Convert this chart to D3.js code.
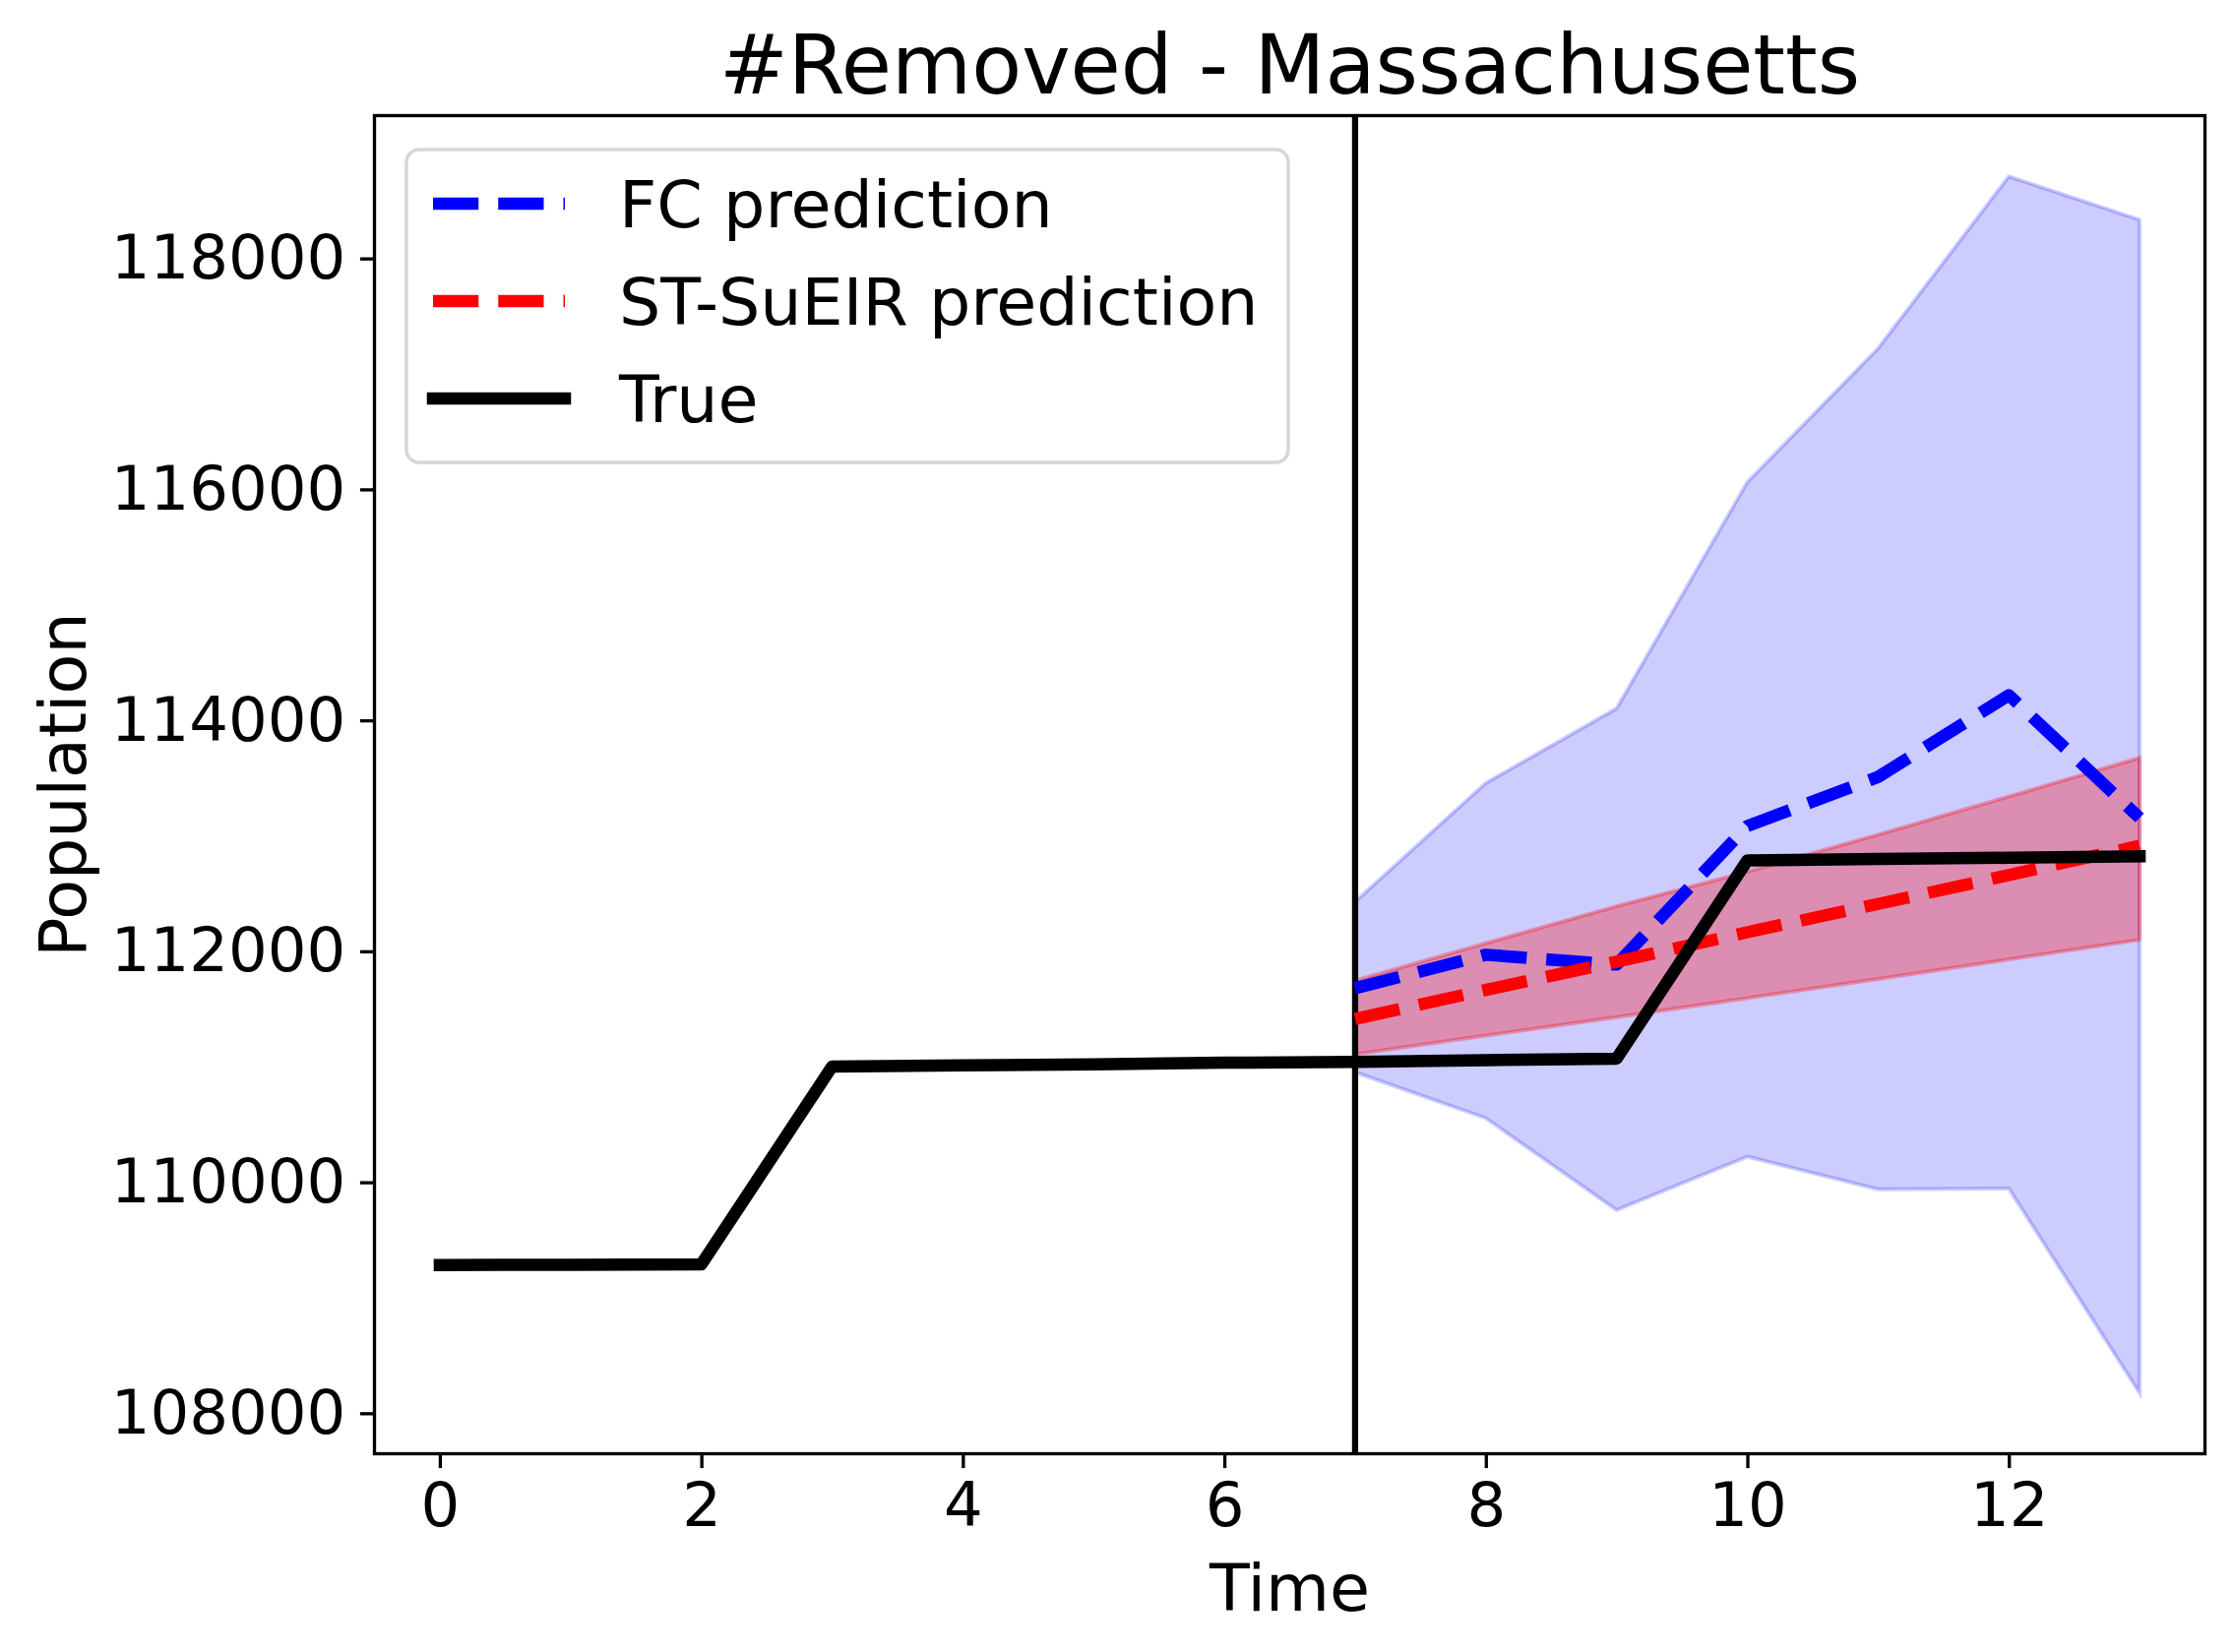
<!DOCTYPE html>
<html>
<head>
<meta charset="utf-8">
<script src="https://cdn.jsdelivr.net/npm/d3@7"></script>
<style>
  body { margin: 0; background: #fff; }
  svg { display: block; }
  text { font-family: "DejaVu Sans", sans-serif; fill: #000; }
</style>
</head>
<body>
<div id="chart"></div>
<script>
// observed series
var times = [0, 1, 2, 3, 4, 5, 6, 7, 8, 9, 10, 11, 12, 13];
var trueCounts = [109283, 109286, 109289, 111003, 111012, 111022, 111035, 111043, 111057, 111071, 112787, 112800, 112810, 112822];

// forecast window
var predTimes = [7, 8, 9, 10, 11, 12, 13];
var fcPred  = [111680, 111970, 111885, 113085, 113510, 114218, 113155];
var fcUpper = [112430, 113457, 114103, 116063, 117221, 118710, 118335];
var fcLower = [110953, 110555, 109760, 110222, 109939, 109945, 108176];
var stPred  = [111415, 111665, 111910, 112165, 112410, 112660, 112914];
var stUpper = [111745, 112070, 112390, 112690, 113010, 113340, 113675];
var stLower = [111108, 111270, 111430, 111595, 111760, 111930, 112100];

var splitTime = 7;
var xTicks = [0, 2, 4, 6, 8, 10, 12];
var yTicks = [108000, 110000, 112000, 114000, 116000, 118000];
var legendLabels = ["FC prediction", "ST-SuEIR prediction", "True"];

var width = 2270, height = 1679;
var plot = { left: 380.5, right: 2240.5, top: 117.5, bottom: 1477.5 };
var tickFont = 62.5, labelFont = 66.7, titleFont = 83.3;
var dash = "46.25,20";

var svg = d3.select("#chart").append("svg")
  .attr("width", width)
  .attr("height", height)
  .attr("viewBox", "0 0 " + width + " " + height);

svg.append("rect").attr("width", width).attr("height", height).attr("fill", "#fff");

var x = d3.scaleLinear().domain([-0.5, 13.5]).range([plot.left, plot.right]);

// matplotlib style 5% margin around the data
var allVals = trueCounts.concat(fcUpper, fcLower, stUpper, stLower, fcPred, stPred);
var lo = d3.min(allVals), hi = d3.max(allVals), pad = (hi - lo) * 0.05;
var y = d3.scaleLinear().domain([lo - pad, hi + pad]).range([plot.bottom, plot.top]);

svg.append("clipPath").attr("id", "plotClip")
  .append("rect")
  .attr("x", plot.left).attr("y", plot.top)
  .attr("width", plot.right - plot.left).attr("height", plot.bottom - plot.top);

var plotArea = svg.append("g").attr("clip-path", "url(#plotClip)");

function band(upper, lower) {
  return predTimes.map(function(t, i) { return { t: t, hi: upper[i], lo: lower[i] }; });
}
var area = d3.area()
  .x(function(d) { return x(d.t); })
  .y0(function(d) { return y(d.lo); })
  .y1(function(d) { return y(d.hi); });

plotArea.append("path")
  .datum(band(fcUpper, fcLower))
  .attr("d", area)
  .attr("fill", "blue").attr("fill-opacity", 0.2)
  .attr("stroke", "blue").attr("stroke-opacity", 0.2).attr("stroke-width", 4);

plotArea.append("path")
  .datum(band(stUpper, stLower))
  .attr("d", area)
  .attr("fill", "red").attr("fill-opacity", 0.3)
  .attr("stroke", "red").attr("stroke-opacity", 0.3).attr("stroke-width", 4);

// split marker
plotArea.append("line")
  .attr("x1", x(splitTime)).attr("x2", x(splitTime))
  .attr("y1", plot.top).attr("y2", plot.bottom)
  .attr("stroke", "#000").attr("stroke-width", 6.25);

var line = d3.line()
  .x(function(d) { return x(d[0]); })
  .y(function(d) { return y(d[1]); });

plotArea.append("path")
  .datum(d3.zip(predTimes, fcPred))
  .attr("d", line)
  .attr("fill", "none").attr("stroke", "blue").attr("stroke-width", 12.5)
  .attr("stroke-dasharray", dash).attr("stroke-linejoin", "round");

plotArea.append("path")
  .datum(d3.zip(predTimes, stPred))
  .attr("d", line)
  .attr("fill", "none").attr("stroke", "red").attr("stroke-width", 12.5)
  .attr("stroke-dasharray", dash).attr("stroke-linejoin", "round");

plotArea.append("path")
  .datum(d3.zip(times, trueCounts))
  .attr("d", line)
  .attr("fill", "none").attr("stroke", "#000").attr("stroke-width", 12.5)
  .attr("stroke-linejoin", "round").attr("stroke-linecap", "square");

// axes
var xAxis = svg.append("g")
  .attr("transform", "translate(0," + plot.bottom + ")")
  .call(d3.axisBottom(x).tickValues(xTicks).tickSize(14.6).tickPadding(14.6).tickFormat(d3.format("d")));
var yAxis = svg.append("g")
  .attr("transform", "translate(" + plot.left + ",0)")
  .call(d3.axisLeft(y).tickValues(yTicks).tickSize(14.6).tickPadding(14.6).tickFormat(d3.format("d")));

[xAxis, yAxis].forEach(function(g) {
  g.select(".domain").remove();
  g.attr("font-family", "DejaVu Sans, sans-serif").attr("font-size", tickFont);
  g.selectAll(".tick line").attr("stroke", "#000").attr("stroke-width", 3.33);
  g.selectAll(".tick text").attr("fill", "#000");
});

// spines
svg.append("rect")
  .attr("x", plot.left).attr("y", plot.top)
  .attr("width", plot.right - plot.left).attr("height", plot.bottom - plot.top)
  .attr("fill", "none").attr("stroke", "#000").attr("stroke-width", 3.33);

// titles
svg.append("text")
  .attr("x", (plot.left + plot.right) / 2).attr("y", 95)
  .attr("text-anchor", "middle").attr("font-size", titleFont)
  .text("#Removed - Massachusetts");

svg.append("text")
  .attr("x", (plot.left + plot.right) / 2).attr("y", 1637)
  .attr("text-anchor", "middle").attr("font-size", labelFont)
  .text("Time");

svg.append("text")
  .attr("transform", "translate(87," + (plot.top + plot.bottom) / 2 + ") rotate(-90)")
  .attr("text-anchor", "middle").attr("font-size", labelFont)
  .text("Population");

// legend
var legend = svg.append("g").attr("transform", "translate(413,152)");
legend.append("rect")
  .attr("width", 896).attr("height", 318).attr("rx", 13)
  .attr("fill", "#fff").attr("fill-opacity", 0.8)
  .attr("stroke", "#d6d6d6").attr("stroke-width", 3.5);

var legendStyles = [
  { color: "blue", dashed: true },
  { color: "red", dashed: true },
  { color: "#000", dashed: false }
];

var rows = legend.selectAll("g.row")
  .data(legendLabels)
  .enter().append("g")
  .attr("class", "row")
  .attr("transform", function(d, i) { return "translate(0," + (55 + i * 99) + ")"; });

rows.append("line")
  .attr("x1", 27).attr("x2", 161)
  .attr("stroke", function(d, i) { return legendStyles[i].color; })
  .attr("stroke-width", 12.5)
  .attr("stroke-dasharray", function(d, i) { return legendStyles[i].dashed ? dash : null; })
  .attr("stroke-linecap", function(d, i) { return legendStyles[i].dashed ? "butt" : "square"; });

rows.append("text")
  .attr("x", 216).attr("y", 23.5)
  .attr("font-size", labelFont)
  .text(function(d) { return d; });
</script>
</body>
</html>
